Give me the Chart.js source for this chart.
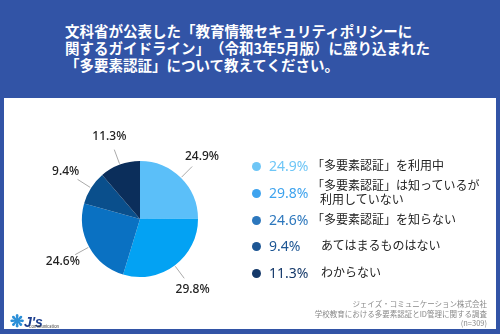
<!DOCTYPE html>
<html>
<head>
<meta charset="utf-8">
<script src="https://cdn.jsdelivr.net/npm/chart.js@4/dist/chart.umd.min.js"></script>
<style>
  body { margin: 0; width: 500px; height: 334px; background: #3254a6; position: relative; overflow: hidden;
         font-family: "Noto Sans CJK JP", "Noto Sans", sans-serif; text-spacing-trim: space-all; }
  #title { position: absolute; left: 65px; top: 21.5px; color: #fff; font-size: 14.5px; font-weight: bold; line-height: 17px; white-space: nowrap; }
  #card { position: absolute; left: 4px; top: 98px; width: 492px; height: 231px; background: #fff; }
  #chartBox { position: absolute; left: 0; top: 99px; width: 280px; height: 230px; }
  #legend { position: absolute; left: 252px; top: 0; }
  .row { position: absolute; left: 0; white-space: nowrap; }
  .dot { position: absolute; left: 0; width: 9px; height: 9px; border-radius: 50%; }
  .pct { position: absolute; left: 17px; font-size: 14px; font-family: "Noto Sans", sans-serif; }
  .lab { position: absolute; left: 60px; font-size: 12px; color: #222; line-height: 13.5px; }
  #foot { position: absolute; right: 13px; top: 299px; text-align: right; color: #888; font-size: 7.5px; line-height: 9.6px; }
  #logo { position: absolute; left: 10px; top: 307px; color: #1d3f8f; }
</style>
</head>
<body>
<div id="title">文科省が公表した「教育情報セキュリティポリシーに<br>関するガイドライン」（令和3年5月版）に盛り込まれた<br>「多要素認証」について教えてください。</div>
<div id="card"></div>
<div id="chartBox"><canvas id="pie"></canvas></div>
<div id="legend"></div>
<div id="foot">ジェイズ・コミュニケーション株式会社<br>学校教育における多要素認証とID管理に関する調査<br>(n=309)</div>
<div id="logo"><span style="color:#2b8fd8;font-size:17px;font-weight:bold;">❋</span><span style="font-family:'Liberation Sans';font-weight:bold;font-style:italic;font-size:14px;">J's</span><div style="position:absolute;left:19px;top:16px;font-size:4px;color:#333;">Communication</div></div>

<script>
// survey answers
const labels = [
  ['「多要素認証」を利用中'],
  ['「多要素認証」は知っているが', '利用していない'],
  ['「多要素認証」を知らない'],
  ['あてはまるものはない'],
  ['わからない']
];
const values = [24.9, 29.8, 24.6, 9.4, 11.3];
const sliceColors = ['#5bbff9', '#03a2f3', '#0a71c2', '#0a4f8c', '#0b2e5b'];
const legendColors = ['#6ec6f6', '#3ea3ee', '#2c77bd', '#1d5694', '#15396a'];
const legendRowY = [166.7, 193.3, 220, 246.7, 273.3];

// outside labels with leader lines
const outsideLabels = {
  id: 'outsideLabels',
  afterDatasetsDraw(chart) {
    const ctx = chart.ctx;
    const meta = chart.getDatasetMeta(0);
    ctx.save();
    meta.data.forEach((arc, i) => {
      const p = arc.getProps(['x', 'y', 'startAngle', 'endAngle', 'outerRadius'], true);
      const mid = (p.startAngle + p.endAngle) / 2;
      const c = Math.cos(mid), s = Math.sin(mid);
      ctx.strokeStyle = '#aaaaaa';
      ctx.lineWidth = 1;
      ctx.beginPath();
      ctx.moveTo(p.x + c * (p.outerRadius + 1), p.y + s * (p.outerRadius + 1));
      ctx.lineTo(p.x + c * (p.outerRadius + 16), p.y + s * (p.outerRadius + 16));
      ctx.stroke();
      ctx.fillStyle = '#222';
      ctx.font = '500 12px "Noto Sans", sans-serif';
      ctx.textAlign = 'center';
      ctx.textBaseline = 'middle';
      ctx.fillText(values[i].toFixed(1) + '%', p.x + c * (p.outerRadius + 30), p.y + s * (p.outerRadius + 30));
    });
    ctx.restore();
  }
};

new Chart(document.getElementById('pie'), {
  type: 'pie',
  data: {
    labels: labels.map(l => l.join('')),
    datasets: [{
      data: values,
      backgroundColor: sliceColors,
      borderWidth: 0
    }]
  },
  options: {
    responsive: true,
    maintainAspectRatio: false,
    animation: false,
    layout: { padding: { top: 62, bottom: 52, left: 20, right: 20 } },
    plugins: { legend: { display: false }, tooltip: { enabled: false } }
  },
  plugins: [outsideLabels]
});

// legend on the right
const legend = document.getElementById('legend');
labels.forEach((lines, i) => {
  const row = document.createElement('div');
  row.className = 'row';
  row.style.top = legendRowY[i] + 'px';
  const dot = document.createElement('div');
  dot.className = 'dot';
  dot.style.background = legendColors[i];
  dot.style.top = '-4.5px';
  const pct = document.createElement('div');
  pct.className = 'pct';
  pct.style.color = legendColors[i];
  pct.style.top = '-10.5px';
  pct.textContent = values[i].toFixed(1) + '%';
  const lab = document.createElement('div');
  lab.className = 'lab';
  lab.style.top = (-8.5 - (lines.length - 1) * 6.7) + 'px';
  // lines after a bracketed first line are indented to the bracket's ink
  lab.innerHTML = lines.map((t, j) => j === 0 ? t : '<span style="padding-left:8px">' + t + '</span>').join('<br>');
  if (!lines[0].startsWith('「')) lab.style.left = '69px';
  row.append(dot, pct, lab);
  legend.appendChild(row);
});
</script>
</body>
</html>
